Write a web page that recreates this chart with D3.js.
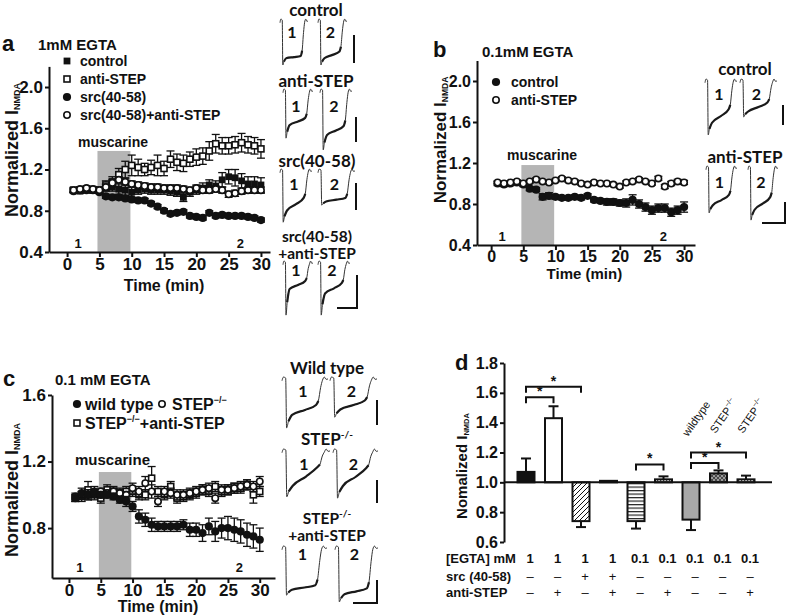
<!DOCTYPE html>
<html><head><meta charset="utf-8">
<script src="https://cdn.jsdelivr.net/npm/d3@7"></script>
<style>
body{margin:0;background:#fff}
svg{display:block}
text{font-family:"Liberation Sans",Arial,sans-serif;font-weight:bold;fill:#111}
.tr text{font-family:Lato,"Open Sans",sans-serif}
</style>
</head><body><script>
// ---------------- DATA ----------------
const times = [1,2,3,4,5,6,7,8,9,10,11,12,13,14,15,16,17,18,19,20,21,22,23,24,25,26,27,28,29,30];
const xTicks = [0,5,10,15,20,25,30];
const muscarine = [4.7, 9.8];

// panel a (1mM EGTA)
const aControl    = [1.0,0.99,1.0,1.01,1.0,1.02,1.03,1.01,1.0,0.98,1.0,1.01,1.0,1.0,1.0,0.99,0.98,0.93,0.98,1.0,1.02,1.05,1.04,1.1,1.13,1.12,1.09,1.06,1.06,1.05];
const aControlErr = [0.02,0.02,0.02,0.02,0.02,0.03,0.04,0.05,0.05,0.05,0.04,0.04,0.04,0.04,0.04,0.04,0.04,0.04,0.04,0.04,0.05,0.05,0.05,0.07,0.07,0.08,0.07,0.07,0.07,0.07];
const aAnti       = [1.0,1.0,1.01,1.0,1.0,1.05,1.08,1.15,1.2,1.24,1.22,1.2,1.22,1.24,1.21,1.3,1.27,1.26,1.3,1.32,1.33,1.38,1.45,1.43,1.43,1.44,1.46,1.44,1.43,1.4];
const aAntiErr    = [0.02,0.02,0.02,0.02,0.03,0.04,0.05,0.06,0.08,0.1,0.08,0.06,0.07,0.1,0.07,0.08,0.08,0.08,0.07,0.08,0.08,0.09,0.09,0.08,0.08,0.08,0.09,0.08,0.08,0.09];
const aSrc        = [0.99,1.0,1.0,1.0,0.98,0.94,0.93,0.93,0.92,0.91,0.9,0.9,0.87,0.84,0.8,0.77,0.78,0.79,0.75,0.74,0.73,0.78,0.75,0.76,0.75,0.75,0.75,0.74,0.73,0.71];
const aSrcErr     = [0.015,0.015,0.015,0.015,0.015,0.02,0.02,0.02,0.02,0.02,0.02,0.02,0.02,0.02,0.02,0.02,0.02,0.02,0.02,0.02,0.02,0.02,0.02,0.02,0.02,0.02,0.02,0.02,0.02,0.02];
const aSrcAnti    = [1.0,1.01,1.02,1.01,1.0,1.03,1.07,1.1,1.08,1.06,1.05,1.04,1.03,1.03,1.02,1.02,1.02,1.01,1.0,1.02,1.0,1.0,1.01,1.0,0.96,0.97,0.99,1.0,1.0,1.0];
const aSrcAntiErr = [0.02,0.02,0.02,0.02,0.02,0.03,0.03,0.03,0.03,0.03,0.03,0.03,0.03,0.03,0.03,0.03,0.03,0.03,0.03,0.03,0.03,0.03,0.03,0.03,0.03,0.03,0.03,0.03,0.03,0.03];
const aYTicks = [0.4,0.8,1.2,1.6,2.0];

// panel b (0.1mM EGTA)
const bControl    = [1.0,0.99,1.0,1.01,0.99,0.95,0.94,0.87,0.88,0.87,0.86,0.86,0.87,0.86,0.88,0.84,0.83,0.82,0.82,0.81,0.81,0.84,0.8,0.77,0.74,0.76,0.76,0.72,0.74,0.77];
const bControlErr = [0.02,0.02,0.02,0.02,0.02,0.02,0.02,0.03,0.03,0.02,0.02,0.02,0.02,0.02,0.02,0.02,0.02,0.03,0.03,0.03,0.04,0.05,0.04,0.04,0.04,0.04,0.04,0.04,0.04,0.05];
const bAnti       = [1.01,1.0,1.01,1.02,1.0,1.02,1.04,1.02,1.01,1.03,1.05,1.03,1.02,1.0,0.99,1.01,1.0,1.0,0.99,0.97,1.01,1.02,1.04,1.02,1.0,1.05,0.97,1.0,1.02,1.01];
const bAntiErr    = [0.015,0.015,0.015,0.015,0.015,0.015,0.015,0.015,0.015,0.015,0.015,0.015,0.015,0.015,0.015,0.015,0.015,0.015,0.015,0.015,0.015,0.015,0.015,0.015,0.015,0.02,0.02,0.02,0.02,0.02];
const bYTicks = [0.4,0.8,1.2,1.6,2.0];

// panel c (0.1 mM EGTA, knockout)
const cWild       = [0.98,1.01,1.0,1.01,1.0,1.0,0.99,0.97,0.96,0.93,0.87,0.85,0.82,0.81,0.81,0.81,0.81,0.82,0.79,0.79,0.77,0.81,0.78,0.8,0.8,0.79,0.78,0.76,0.75,0.73];
const cWildErr    = [0.02,0.03,0.03,0.02,0.02,0.02,0.02,0.02,0.03,0.03,0.04,0.04,0.04,0.03,0.03,0.03,0.03,0.03,0.04,0.04,0.05,0.05,0.06,0.06,0.07,0.07,0.07,0.07,0.07,0.07];
const cStep       = [0.99,1.0,1.0,1.02,1.02,1.01,1.02,1.01,1.0,1.04,1.02,1.07,1.02,0.96,1.02,1.01,1.0,1.0,1.01,1.02,1.03,1.04,0.98,1.03,1.03,1.04,1.05,1.06,1.05,1.08];
const cStepErr    = [0.02,0.02,0.03,0.03,0.02,0.02,0.02,0.02,0.02,0.03,0.03,0.04,0.04,0.03,0.03,0.03,0.03,0.03,0.03,0.03,0.03,0.03,0.03,0.03,0.03,0.03,0.03,0.03,0.03,0.03];
const cStepAnti   = [0.98,0.99,1.03,1.0,0.98,1.03,1.02,1.01,1.02,1.02,1.0,1.0,1.1,1.02,1.0,1.05,0.98,0.99,1.0,1.01,1.03,1.02,1.05,1.02,1.03,1.04,1.04,1.06,1.0,1.02];
const cStepAntiErr= [0.02,0.03,0.05,0.03,0.03,0.03,0.03,0.03,0.03,0.03,0.03,0.03,0.07,0.03,0.03,0.03,0.03,0.03,0.03,0.03,0.03,0.03,0.03,0.03,0.03,0.03,0.03,0.03,0.05,0.03];
const cYTicks = [0.8,1.2,1.6];

// panel d (summary bars)
const dEgta  = ["1","1","1","1","0.1","0.1","0.1","0.1","0.1"];
const dSrc   = ["–","–","+","+","–","–","–","–","–"];
const dAnti  = ["–","+","–","+","–","+","–","–","+"];
const dMeans = [1.07,1.43,0.74,1.01,0.74,1.02,0.75,1.06,1.02];
const dErrs  = [0.09,0.08,0.04,0,0.05,0.02,0.07,0.02,0.025];
const dFills = ["solid-black","white","diag","white","hstripe","dots","gray","cross","dots"];
const dGenotype = [null,null,null,null,null,null,"wildtype","STEP","STEP"];
const dBrackets = [[0,1,1.57],[0,2,1.64],[4,5,1.12],[6,7,1.13],[6,8,1.2]];
const dYTicks = [0.6,0.8,1.0,1.2,1.4,1.6,1.8];

// example current traces: [peak, early plateau, late plateau] (relative amplitude)
const traceTemplateX = [0,0.03,0.08,0.1,0.14,0.22,0.5,0.74,0.79,0.84,0.88,0.92,0.96,1];
const trA_control  = [[1.0,0.85,0.8],[1.0,0.85,0.7]];
const trA_anti     = [[1.07,0.78,0.62],[1.33,1.0,0.8]];
const trA_src      = [[1.16,0.9,0.62],[0.78,0.7,0.62]];
const trA_srcAnti  = [[1.18,0.6,0.42],[1.18,0.7,0.47]];
const trB_control  = [[1.22,0.95,0.65],[0.82,0.7,0.5]];
const trB_anti     = [[1.02,0.85,0.62],[1.18,0.95,0.67]];
const trC_wild     = [[1.11,0.82,0.6],[0.87,0.7,0.5]];
const trC_step     = [[1.04,0.8,0.38],[1.07,0.8,0.4]];
const trC_stepAnti = [[1.07,0.95,0.85],[1.22,1.05,0.92]];

// ---------------- DRAWING ----------------
const svg = d3.select("body").append("svg").attr("width",787).attr("height",616);
const defs = svg.append("defs");
const pDiag = defs.append("pattern").attr("id","diag").attr("patternUnits","userSpaceOnUse").attr("width",5).attr("height",5);
pDiag.append("rect").attr("width",5).attr("height",5).attr("fill","#fff");
pDiag.append("path").attr("d","M0,5L5,0M-1,1L1,-1M4,6L6,4").attr("stroke","#111").attr("stroke-width",1);
const pH = defs.append("pattern").attr("id","hstripe").attr("patternUnits","userSpaceOnUse").attr("width",4).attr("height",3.5);
pH.append("rect").attr("width",4).attr("height",3.5).attr("fill","#fff");
pH.append("rect").attr("width",4).attr("height",1.2).attr("fill","#222");
const pD = defs.append("pattern").attr("id","dots").attr("patternUnits","userSpaceOnUse").attr("width",3).attr("height",3);
pD.append("rect").attr("width",3).attr("height",3).attr("fill","#fff");
pD.append("rect").attr("width",1.2).attr("height",1.2).attr("fill","#444");
const pC = defs.append("pattern").attr("id","cross").attr("patternUnits","userSpaceOnUse").attr("width",4).attr("height",4);
pC.append("rect").attr("width",4).attr("height",4).attr("fill","#999");
pC.append("path").attr("d","M0,0L4,4M4,0L0,4").attr("stroke","#333").attr("stroke-width",0.8);
const fillOf = f => ({"solid-black":"#111","white":"#fff","gray":"#a8a8a8"}[f] || `url(#${f})`);

function styleAxis(g, size){
  g.select(".domain").attr("stroke","#111").attr("stroke-width",2);
  g.selectAll(".tick line").attr("stroke","#111").attr("stroke-width",2);
  g.selectAll(".tick text").style("font-size",size+"px").style("font-weight","bold").attr("fill","#111")
    .style("font-family",'"Liberation Sans",Arial,sans-serif');
}
function yTitle(x, y, size, main){
  const t = svg.append("text").attr("transform",`translate(${x},${y}) rotate(-90)`)
    .attr("text-anchor","middle").style("font-size",size+"px");
  t.append("tspan").text(main);
  t.append("tspan").text("NMDA").style("font-size",(size*0.5)+"px").attr("dy",size*0.12);
}
function drawSeries(g, x, y, vals, errs, shape){
  const d = times.map((t,i)=>({t, v:vals[i], e:errs[i]}));
  const eg = g.append("g").attr("stroke","#111").attr("stroke-width",1.3);
  eg.selectAll("line.v").data(d).join("line")
    .attr("x1",p=>x(p.t)).attr("x2",p=>x(p.t)).attr("y1",p=>y(p.v-p.e)).attr("y2",p=>y(p.v+p.e));
  eg.selectAll("line.t").data(d).join("line")
    .attr("x1",p=>x(p.t)-4).attr("x2",p=>x(p.t)+4).attr("y1",p=>y(p.v+p.e)).attr("y2",p=>y(p.v+p.e));
  eg.selectAll("line.b").data(d).join("line")
    .attr("x1",p=>x(p.t)-4).attr("x2",p=>x(p.t)+4).attr("y1",p=>y(p.v-p.e)).attr("y2",p=>y(p.v-p.e));
  const mg = g.append("g");
  d.forEach(p=> marker(mg, x(p.t), y(p.v), shape));
}
function marker(g, cx, cy, shape){
  if(shape==="fs") g.append("rect").attr("x",cx-3.4).attr("y",cy-3.4).attr("width",6.8).attr("height",6.8).attr("fill","#111");
  if(shape==="os") g.append("rect").attr("x",cx-3).attr("y",cy-3).attr("width",6).attr("height",6).attr("fill","#fff").attr("stroke","#111").attr("stroke-width",1.6);
  if(shape==="fc") g.append("circle").attr("cx",cx).attr("cy",cy).attr("r",4.1).attr("fill","#111");
  if(shape==="oc") g.append("circle").attr("cx",cx).attr("cy",cy).attr("r",3.2).attr("fill","#fff").attr("stroke","#111").attr("stroke-width",1.6);
}
function timePanel(cfg){
  const x = d3.scaleLinear().domain(cfg.xDom).range(cfg.xRange);
  const y = d3.scaleLinear().domain(cfg.yDom).range(cfg.yRange);
  const g = svg.append("g");
  g.append("rect").attr("x",x(muscarine[0])).attr("width",x(muscarine[1])-x(muscarine[0]))
    .attr("y",y(cfg.muscTop)).attr("height",y(cfg.yDom[0])-y(cfg.muscTop)).attr("fill","#b5b5b5");
  g.append("text").attr("x",cfg.muscX).attr("y",cfg.muscY).style("font-size",cfg.muscSize+"px").text("muscarine");
  const ax = g.append("g").attr("transform",`translate(0,${cfg.yRange[0]})`)
    .call(d3.axisBottom(x).tickValues(xTicks).tickSize(5).tickPadding(1).tickSizeOuter(0));
  styleAxis(ax, cfg.xTickSize);
  const ay = g.append("g").attr("transform",`translate(${cfg.xRange[0]},0)`)
    .call(d3.axisLeft(y).tickValues(cfg.yTicks).tickFormat(d3.format(".1f")).tickSize(4).tickPadding(2).tickSizeOuter(0));
  styleAxis(ay, cfg.yTickSize);
  g.append("text").attr("x",x(cfg.xTitleAt)).attr("y",cfg.xTitleY).attr("text-anchor","middle")
    .style("font-size",cfg.xTitleSize+"px").text("Time (min)");
  g.append("text").attr("x",x(1.7)).attr("y",cfg.numY).attr("text-anchor","middle").style("font-size","13px").text("1");
  g.append("text").attr("x",x(26.8)).attr("y",cfg.numY).attr("text-anchor","middle").style("font-size","13px").text("2");
  cfg.series.forEach(s=>drawSeries(g, x, y, s[0], s[1], s[2]));
  return {x,y};
}

// Panel a
timePanel({xDom:[-2.8,31.4], xRange:[49,270], yDom:[0.4,2.2], yRange:[252,66.4], yTicks:aYTicks,
  muscTop:1.38, muscX:78, muscY:147, muscSize:14, xTickSize:17, yTickSize:17, xTitleAt:15, xTitleY:291, xTitleSize:16, numY:248,
  series:[[aAnti,aAntiErr,"os"],[aControl,aControlErr,"fs"],[aSrc,aSrcErr,"fc"],[aSrcAnti,aSrcAntiErr,"oc"]]});
yTitle(18,150,18,"Normalized I");
svg.append("text").attr("x",2).attr("y",51).style("font-size","22px").text("a");
svg.append("text").attr("x",38).attr("y",50).style("font-size","15px").text("1mM EGTA");
[["fs","control",61],["os","anti-STEP",79],["fc","src(40-58)",97],["oc","src(40-58)+anti-STEP",115]].forEach(r=>{
  marker(svg, 67, r[2], r[0]);
  svg.append("text").attr("x",80).attr("y",r[2]+5).style("font-size","14px").text(r[1]);
});

// Panel b
timePanel({xDom:[-2.2,31.7], xRange:[477,695], yDom:[0.4,2.2], yRange:[245,60.5], yTicks:bYTicks,
  muscTop:1.18, muscX:507, muscY:160, muscSize:14, xTickSize:16, yTickSize:16, xTitleAt:14.5, xTitleY:279, xTitleSize:15, numY:241,
  series:[[bControl,bControlErr,"fc"],[bAnti,bAntiErr,"oc"]]});
yTitle(446,140,17,"Normalized I");
svg.append("text").attr("x",433).attr("y",57).style("font-size","22px").text("b");
svg.append("text").attr("x",482).attr("y",57).style("font-size","15px").text("0.1mM EGTA");
[["fc","control",82],["oc","anti-STEP",100]].forEach(r=>{
  marker(svg, 496, r[2], r[0]);
  svg.append("text").attr("x",511).attr("y",r[2]+5).style("font-size","14px").text(r[1]);
});

// Panel c
timePanel({xDom:[-2.67,32.4], xRange:[52,275], yDom:[0.5,1.6], yRange:[578,395], yTicks:cYTicks,
  muscTop:1.137, muscX:75, muscY:465, muscSize:15, xTickSize:17, yTickSize:17, xTitleAt:14, xTitleY:612, xTitleSize:16, numY:572,
  series:[[cStepAnti,cStepAntiErr,"os"],[cStep,cStepErr,"oc"],[cWild,cWildErr,"fc"]]});
yTitle(18,490,18,"Normalized I");
svg.append("text").attr("x",3).attr("y",386).style("font-size","22px").text("c");
svg.append("text").attr("x",55).attr("y",385).style("font-size","15px").text("0.1 mM EGTA");
marker(svg,77,404,"fc");
svg.append("text").attr("x",85).attr("y",410).style("font-size","16px").text("wild type");
marker(svg,162,404,"oc");
const stL = svg.append("text").attr("x",172).attr("y",410).style("font-size","16px");
stL.append("tspan").text("STEP"); stL.append("tspan").text("−/−").style("font-size","9px").attr("dy",-7);
marker(svg,77,423,"os");
const stL2 = svg.append("text").attr("x",85).attr("y",429).style("font-size","16px");
stL2.append("tspan").text("STEP"); stL2.append("tspan").text("−/−").style("font-size","9px").attr("dy",-7);
stL2.append("tspan").text("+anti-STEP").attr("dy",7);

// Panel d
{
  const x = d3.scalePoint().domain(d3.range(9)).range([526,746]);
  const y = d3.scaleLinear().domain([0.6,1.8]).range([542,363]);
  const g = svg.append("g");
  const bw = 17;
  const d = dMeans.map((v,i)=>({i,v,e:dErrs[i],f:dFills[i]}));
  g.selectAll("line.err").data(d.filter(p=>p.e>0)).join("line")
    .attr("x1",p=>x(p.i)).attr("x2",p=>x(p.i))
    .attr("y1",p=>y(p.v)).attr("y2",p=>y(p.v>=1?p.v+p.e:p.v-p.e)).attr("stroke","#111").attr("stroke-width",2);
  g.selectAll("line.cap").data(d.filter(p=>p.e>0)).join("line")
    .attr("x1",p=>x(p.i)-5).attr("x2",p=>x(p.i)+5)
    .attr("y1",p=>y(p.v>=1?p.v+p.e:p.v-p.e)).attr("y2",p=>y(p.v>=1?p.v+p.e:p.v-p.e)).attr("stroke","#111").attr("stroke-width",2);
  g.selectAll("rect.bar").data(d).join("rect")
    .attr("x",p=>x(p.i)-bw/2).attr("width",bw)
    .attr("y",p=>Math.min(y(p.v),y(1))).attr("height",p=>Math.max(1,Math.abs(y(p.v)-y(1))))
    .attr("fill",p=>fillOf(p.f)).attr("stroke","#111").attr("stroke-width",2);
  g.append("line").attr("x1",504).attr("x2",772).attr("y1",y(1)).attr("y2",y(1)).attr("stroke","#111").attr("stroke-width",2);
  const ay = g.append("g").attr("transform","translate(504,0)")
    .call(d3.axisLeft(y).tickValues(dYTicks).tickFormat(d3.format(".1f")).tickSize(4).tickPadding(2).tickSizeOuter(0));
  styleAxis(ay,16);
  dBrackets.forEach(b=>{
    const x1=x(b[0]), x2=x(b[1]), yy=y(b[2]);
    g.append("path").attr("d",`M${x1},${yy+6}V${yy}H${x2}V${yy+6}`).attr("fill","none").attr("stroke","#111").attr("stroke-width",2);
    g.append("text").attr("x",(x1+x2)/2).attr("y",yy-1).attr("text-anchor","middle").style("font-size","14px").text("*");
  });
  d.forEach(p=>{
    const lab = dGenotype[p.i]; if(!lab) return;
    const t = g.append("text").attr("transform",`translate(${x(p.i)-3},${lab==="wildtype"?437:434}) rotate(-55)`).style("font-size","11px").style("font-weight","normal");
    if(lab==="wildtype") t.text("wildtype");
    else { t.append("tspan").text("STEP"); t.append("tspan").text("−/−").style("font-size","7px").attr("dy",-5); }
  });
  const rows = [["[EGTA] mM",dEgta,563],["src (40-58)",dSrc,581],["anti-STEP",dAnti,597]];
  rows.forEach(r=>{
    g.append("text").attr("x",446).attr("y",r[2]).style("font-size","13px").text(r[0]);
    g.selectAll(null).data(r[1]).join("text").attr("x",(s,i)=>x(i)+4).attr("y",r[2]).attr("text-anchor","middle")
      .style("font-size","13px").style("font-weight",r[0]==="[EGTA] mM"?"bold":"normal").text(s=>s);
  });
  yTitle(467,466,15,"Nomalized I");
  svg.append("text").attr("x",455).attr("y",370).style("font-size","22px").text("d");
}

// ---------------- TRACES ----------------
const tr = svg.append("g").attr("class","tr");
function drawTraces(cfg, data){
  const yS = d3.scaleLinear().domain([0,1]).range([cfg.top, cfg.top+cfg.unit]);
  const line = d3.line().x(p=>p[0]).y(p=>yS(p[1])).curve(d3.curveMonotoneX);
  data.forEach((td,k)=>{
    const [p,s1,s2] = td;
    const xs = d3.scaleLinear().domain([0,1]).range(cfg.xs[k]);
    const depth = [0.06,-0.02,0,p,(p+s1)/2,s1,(s1+s2)/2,s2,s2*0.85,s2*0.35,0.05,-0.02,0.03,0.02];
    const pts = traceTemplateX.map((tx,j)=>[xs(tx),depth[j]]);
    tr.append("path").attr("d",line(pts)).attr("fill","none").attr("stroke","#333").attr("stroke-width",1);
    tr.append("path").attr("d",line(pts.slice(4,9))).attr("fill","none").attr("stroke","#1a1a1a").attr("stroke-width",2.2);
    const numX = (cfg.xs[k][0]+cfg.xs[k][1])/2 - 2;
    tr.append("text").attr("x",numX).attr("y",cfg.numY).attr("text-anchor","middle").style("font-size","16px").text(String(k+1));
  });
  cfg.labels.forEach(l=>{
    const t = tr.append("text").attr("x",cfg.labelX).attr("y",l[1]).attr("text-anchor","middle").style("font-size",(cfg.fs||17)+"px");
    if(l[0].includes("STEP-/-")){
      const parts = l[0].split("STEP-/-");
      if(parts[0]) t.append("tspan").text(parts[0]);
      t.append("tspan").text("STEP");
      t.append("tspan").text("-/-").style("font-size","10px").attr("dy",-7);
      if(parts[1]) t.append("tspan").text(parts[1]).attr("dy",7);
    } else t.text(l[0]);
  });
  const sb = cfg.bar;
  tr.append("line").attr("x1",sb[0]).attr("x2",sb[0]).attr("y1",sb[1]).attr("y2",sb[2]).attr("stroke","#111").attr("stroke-width",2);
  if(sb[3]!==undefined) tr.append("line").attr("x1",sb[3]).attr("x2",sb[0]+1).attr("y1",sb[2]).attr("y2",sb[2]).attr("stroke","#111").attr("stroke-width",2);
}
drawTraces({top:20,unit:45,xs:[[280,308],[318,347]],numY:38,labelX:316,labels:[["control",16]],bar:[354,35,63]}, trA_control);
drawTraces({top:90,unit:45,xs:[[283,313],[320,352]],numY:112,labelX:316,labels:[["anti-STEP",87]],bar:[356,117,142]}, trA_anti);
drawTraces({top:170,unit:45,xs:[[280,312],[318,355]],numY:190,labelX:317,labels:[["src(40-58)",167]],bar:[356,183,210]}, trA_src);
drawTraces({top:262,unit:45,xs:[[283,313],[318,350]],numY:276,labelX:317,fs:15.5,labels:[["src(40-58)",242],["+anti-STEP",259]],bar:[357,275,308,337]}, trA_srcAnti);
drawTraces({top:80,unit:45,xs:[[705,737],[740,777]],numY:100,labelX:745,labels:[["control",75]],bar:[783,105,125]}, trB_control);
drawTraces({top:167,unit:45,xs:[[706,737],[748,778]],numY:188,labelX:745,labels:[["anti-STEP",163]],bar:[785,202,223,762]}, trB_anti);
drawTraces({top:378,unit:45,xs:[[282,328],[330,377]],numY:397,labelX:327,labels:[["Wild type",374]],bar:[377,400,425]}, trC_wild);
drawTraces({top:450,unit:45,xs:[[282,330],[333,378]],numY:470,labelX:327,labels:[["STEP-/-",445]],bar:[377,480,503]}, trC_step);
drawTraces({top:547,unit:45,xs:[[282,327],[335,378]],numY:560,labelX:327,fs:15.5,labels:[["STEP-/-",524],["+anti-STEP",541]],bar:[377,580,603,353]}, trC_stepAnti);
</script></body></html>
